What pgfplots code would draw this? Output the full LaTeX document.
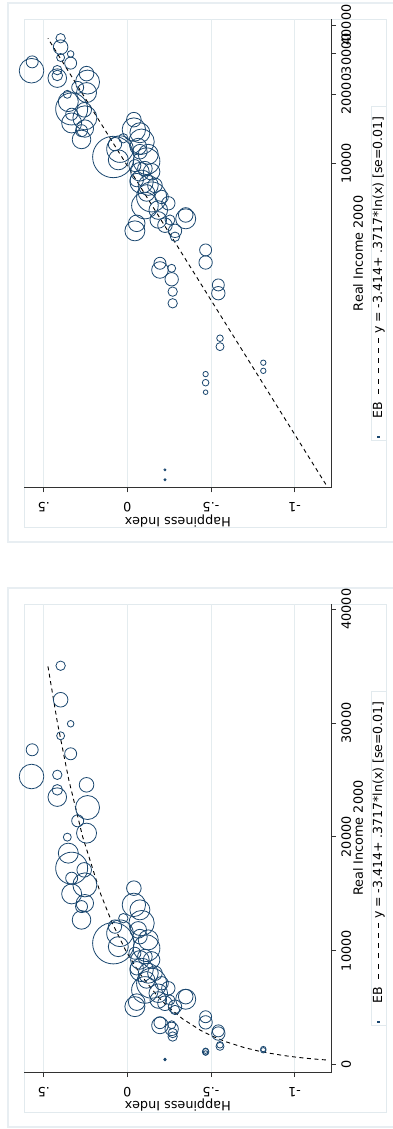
\documentclass[border=0pt]{standalone}
\usepackage{fontspec}
\setmainfont{DejaVu Sans}
\usepackage{pgfplots}
\pgfplotsset{compat=1.18}
\usepackage{pgfplotstable}
\definecolor{navyc}{RGB}{26,71,111}
\definecolor{framec}{RGB}{226,234,238}
\definecolor{outerc}{RGB}{232,238,242}
\definecolor{gridc}{RGB}{228,236,239}
\definecolor{axc}{RGB}{50,50,50}
\newcommand\fs{\fontsize{12.8}{15}\selectfont}
\newcommand\lfs{\fontsize{12.5}{15}\selectfont}
\newcommand\dsh{\rule[3.05pt]{5pt}{0.9pt}}
\newcommand\dashes{\dsh\hspace{5.2pt}\dsh\hspace{5.2pt}\dsh\hspace{5.2pt}\dsh\hspace{5.2pt}\dsh\hspace{5.2pt}\dsh}
\newcommand\legendcontent{\makebox[334pt][l]{\lfs\hspace{1.5pt}\raisebox{2.4pt}{\textcolor{navyc}{\rule{2.2pt}{2.2pt}}}\hspace{18pt}EB\hspace{8pt}\dashes\hspace{4pt}y = -3.414+ .3717*ln(x) [se=0.01]}}

\pgfplotstableread{
h inc r
0.399 35033 4.7
0.399 32044 7.3
0.339 29934 3.3
0.399 28879 4.0
0.569 27648 6.0
0.339 27297 6.0
0.573 25301 12.3
0.419 25450 4.7
0.244 24571 7.3
0.419 24131 5.3
0.419 23490 9.3
0.238 22575 12.0
0.297 21406 6.0
0.244 20325 10.0
0.359 19973 4.0
0.353 18567 10.0
0.333 17248 16.0
0.258 17099 7.3
0.333 16369 6.0
0.254 15780 12.0
0.333 14989 10.0
0.254 14171 8.7
0.274 13872 6.0
0.274 12703 9.3
-0.039 15493 7.3
-0.039 14025 11.7
-0.075 13586 10.0
-0.085 12417 12.7
0.084 10654 20.7
0.044 11533 13.3
0.054 10355 10.0
0.024 12855 4.7
-0.075 11234 7.3
-0.115 10214 13.3
-0.075 9187 9.3
-0.085 8308 11.7
-0.125 8018 10.0
-0.145 7139 15.0
-0.105 6550 13.3
-0.045 5082 10.0
-0.185 6259 9.3
-0.245 6699 6.7
-0.225 5380 7.3
-0.285 5082 6.7
-0.349 5733 10.0
-0.065 11826 8.3
-0.125 10947 10.0
-0.045 9774 6.0
-0.105 9480 7.3
-0.145 9187 8.3
-0.056 8454 6.7
-0.165 8018 7.3
-0.115 7430 8.3
-0.205 7139 6.7
-0.185 5670 8.3
-0.255 5670 5.0
-0.285 4791 4.7
0.074 12117 6.7
-0.056 5480 8.3
-0.349 5960 7.3
-0.468 4196 6.0
-0.468 3700 6.7
-0.195 3672 6.0
-0.195 3433 8.3
-0.265 3491 4.0
-0.265 3128 6.7
-0.271 2763 4.7
-0.271 2458 4.7
-0.544 2955 6.0
-0.544 2720 6.7
-0.554 1732 3.3
-0.554 1592 4.0
-0.468 1209 2.7
-0.468 1109 3.3
-0.468 1008 2.3
-0.813 1355 2.7
-0.813 1249 2.7
-0.225 463 1.0
-0.225 419 1.0
}\ebdata

\pgfplotstableread{
inc h
400 -1.187
450 -1.1432
500 -1.1040
600 -1.0363
700 -0.9790
800 -0.9293
1000 -0.8464
1200 -0.7786
1500 -0.6957
2000 -0.5887
2500 -0.5058
3000 -0.4380
4000 -0.3311
5000 -0.2482
6000 -0.1804
8000 -0.0735
10000 0.0095
12500 0.0924
15000 0.1602
20000 0.2671
25000 0.3501
30000 0.4178
35000 0.4751
}\fitdata

\pgfplotsset{
  panel/.style={
    scale only axis, width=307.7pt, height=469pt,
    anchor=south west, clip=false,
    axis x line*=bottom, axis y line*=right,
    axis line style={axc, line width=1pt},
    xmin=-0.618, xmax=1.222,
    xtick={-0.5,0,0.5,1}, xticklabels={.5,0,-.5,-1},
    xmajorgrids, grid style={gridc, line width=0.9pt},
    tick align=outside, major tick length=4.5pt,
    tick style={axc, line width=0.8pt},
    minor tick style={draw=none},
    /pgf/number format/assume math mode=true,
    tick label style={font=\fs, text=black},
    x tick label style={yshift=-15pt, rotate=180, anchor=center},
    y tick label style={xshift=10pt, rotate=90, anchor=center},
    xlabel={Happiness Index}, ylabel={Real Income 2000},
    every axis x label/.style={at={(rel axis cs:0.5,0)}, yshift=-32.7pt, rotate=180, anchor=center, font=\fs},
    every axis y label/.style={at={(rel axis cs:1,0.5)}, xshift=26.3pt, rotate=90, anchor=center, font=\fs},
  },
  bubbles/.style={scatter, only marks, mark=o, line width=0.8pt,
    scatter/use mapped color={draw=navyc},
    visualization depends on={\thisrow{r} \as \rad},
    scatter/@pre marker code/.append style={/tikz/mark size=\rad}},
  fitline/.style={black, line width=0.9pt, dash pattern=on 4pt off 3.5pt, no marks},
}

\begin{document}
\begin{tikzpicture}
\useasboundingbox (0pt,0pt) rectangle (393pt,1129pt);
% frames
\draw[outerc, line width=1.2pt] (393pt,1126pt) -- (8pt,1126pt) -- (8pt,587pt) -- (393pt,587pt);
\draw[framec, line width=0.8pt] (24pt,602pt) rectangle (386pt,1110pt);
\draw[outerc, line width=1.2pt] (393pt,541pt) -- (8pt,541pt) -- (8pt,2pt) -- (393pt,2pt);
\draw[framec, line width=0.8pt] (24pt,17pt) rectangle (386pt,525pt);

% top panel (log income)
\begin{axis}[panel, at={(24pt,641pt)},
  ymode=log, ymin=386, ymax=42500,
  ytick={10000,20000,30000,40000}, yticklabels={10000,20000,30000,40000}]
\addplot[bubbles] table[x expr=-\thisrow{h}, y=inc] \ebdata;
\addplot[fitline] table[x expr=-\thisrow{h}, y=inc] \fitdata;
\end{axis}

% bottom panel (linear income)
\begin{axis}[panel, at={(24pt,56.3pt)},
  ymin=-721, ymax=40484, scaled y ticks=false,
  ytick={0,10000,20000,30000,40000}, yticklabels={0,10000,20000,30000,40000}]
\addplot[bubbles] table[x expr=-\thisrow{h}, y=inc] \ebdata;
\addplot[fitline] table[x expr=-\thisrow{h}, y=inc] \fitdata;
\end{axis}

% legends
\node[rotate=90, draw=framec, line width=0.8pt, inner sep=0pt, text height=9.5pt, text depth=2.5pt, minimum height=15pt, fill=white] at (378.5pt,856pt) {\legendcontent};
\node[rotate=90, draw=framec, line width=0.8pt, inner sep=0pt, text height=9.5pt, text depth=2.5pt, minimum height=15pt, fill=white] at (378.5pt,271pt) {\legendcontent};
\end{tikzpicture}
\end{document}
